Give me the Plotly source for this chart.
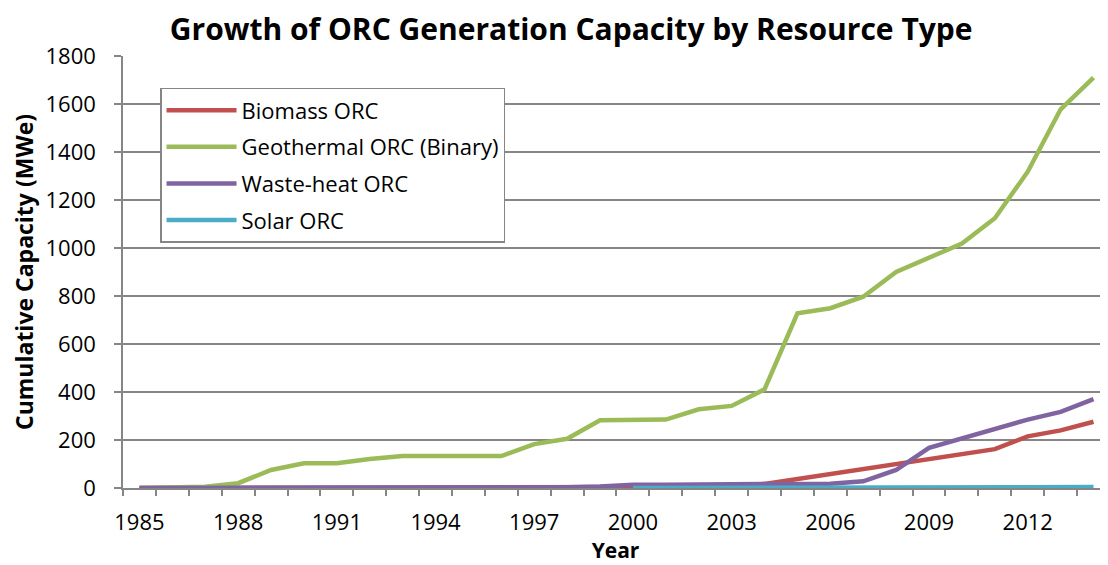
import plotly.graph_objects as go

years = list(range(1985, 2015))

biomass = [0, 0, 0, 0, 0, 0, 0, 0, 0, 0, 0, 0, 0, 1, 2, 3, 4, 5, 8, 17,
           38, 58, 78, 100, 124, 141, 162, 215, 240, 276]
geothermal = [0, 2, 5, 20, 75, 103, 103, 121, 133, 133, 133, 133, 183, 205, 282,
              283, 285, 328, 342, 411, 728, 749, 797, 900, 957, 1019, 1124, 1318, 1578, 1710]
waste_heat = [0, 0, 0, 0, 0, 0, 0, 0, 0, 0, 0, 0, 1, 3, 6, 14, 14, 14, 14, 15,
              16, 18, 28, 75, 167, 205, 246, 285, 317, 370]
solar_years = list(range(2000, 2015))
solar = [0, 0, 0, 0, 0, 0, 0, 0, 0, 1, 2, 2, 3, 3, 4]

font = "Open Sans"
grid = "#868686"

fig = go.Figure()
series = [
    (years, biomass, "Biomass ORC", "#C0504D"),
    (years, geothermal, "Geothermal ORC (Binary)", "#9BBB59"),
    (years, waste_heat, "Waste-heat ORC", "#8064A2"),
    (solar_years, solar, "Solar ORC", "#4BACC6"),
]
for xs, ys, name, col in series:
    fig.add_trace(go.Scatter(x=xs, y=ys, mode="lines", name=name, legendgroup=name,
                             line=dict(color=col, width=4.5)))

# page body has an 8px margin, so the figure is 8px smaller than the window
fig.update_layout(
    width=1100, height=557,
    margin=dict(l=115, r=0, t=48, b=77),
    paper_bgcolor="white", plot_bgcolor="white",
    font=dict(family=font, size=22, color="black"),
    title=dict(text="<b>Growth of ORC Generation Capacity by Resource Type</b>",
               x=0.512, xanchor="center", y=0.962, yanchor="middle",
               font=dict(size=30, family=font)),
    legend=dict(x=0.0376, y=0.926, xanchor="left", yanchor="top",
                bordercolor=grid, borderwidth=1.5, bgcolor="white",
                font=dict(size=22, family=font), tracegroupgap=5,
                itemwidth=70),
    showlegend=True,
)

fig.update_xaxes(
    range=[1984.5, 2014.44],
    tickmode="array", tickvals=list(range(1985, 2015, 3)),
    ticks="", showgrid=False,
    showline=True, linecolor=grid, linewidth=1.5,
    minor=dict(tick0=1984.5, dtick=1, ticks="outside", ticklen=6,
               tickcolor=grid, tickwidth=1.5, showgrid=False),
    title=dict(text="<b>Year</b>", standoff=6, font=dict(size=21)),
    tickfont=dict(size=22), ticklabelstandoff=14,
    automargin=False,
)
fig.update_yaxes(
    range=[0, 1800], dtick=200,
    showgrid=True, gridcolor=grid, gridwidth=1.5,
    ticks="outside", ticklen=7, tickcolor=grid, tickwidth=1.5,
    showline=True, linecolor=grid, linewidth=1.5,
    zeroline=False,
    title=dict(text="<b>Cumulative Capacity (MWe)</b>", standoff=8, font=dict(size=23)),
    tickfont=dict(size=22), ticklabelstandoff=14,
    automargin=False,
)

fig.write_html("out.html")
